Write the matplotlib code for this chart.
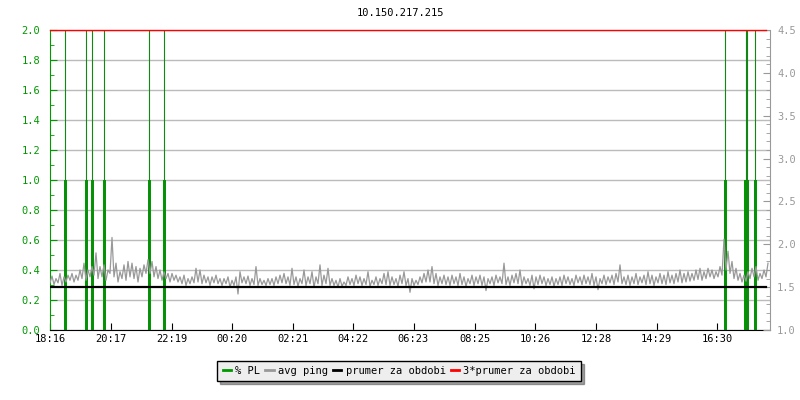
import matplotlib
matplotlib.use("Agg")
import matplotlib.pyplot as plt
from matplotlib.lines import Line2D
from matplotlib.ticker import MultipleLocator

plt.rcParams['font.family'] = ['DejaVu Sans Mono']

nazev = "10.150.217.215"

# popisky casove osy (od 18:16)
casy = ["18:16", "20:17", "22:19", "00:20", "02:21", "04:22",
        "06:23", "08:25", "10:26", "12:28", "14:29", "16:30"]

# okamziky ztraty paketu (minuty od zacatku)
pl_minuty = [30.6, 72.6, 84.6, 108.6, 198.6, 228.6, 1350.6, 1391.4, 1394.6, 1410.6]
pl_hodnoty = [1.0, 1.0, 1.0, 1.0, 1.0, 1.0, 1.0, 1.0, 1.0, 1.0]

# ping [ms] - dolni / horni hodnoty, krok 8 minut
ping_lo = [1.55, 1.53, 1.55, 1.52, 1.56, 1.58, 1.56, 1.58, 1.60, 1.58, 1.62, 1.64,
           1.60, 1.62, 1.58, 1.66, 1.62, 1.56, 1.60, 1.58, 1.62, 1.60, 1.56, 1.62,
           1.66, 1.66, 1.62, 1.60, 1.58, 1.60, 1.56, 1.58, 1.56, 1.54, 1.52, 1.54,
           1.55, 1.56, 1.54, 1.55, 1.52, 1.55, 1.54, 1.52, 1.54, 1.50, 1.52, 1.42,
           1.55, 1.54, 1.52, 1.53, 1.52, 1.53, 1.52, 1.53, 1.52, 1.54, 1.55, 1.54,
           1.52, 1.53, 1.51, 1.54, 1.52, 1.54, 1.50, 1.54, 1.52, 1.54, 1.52,
           1.52, 1.50, 1.51, 1.52, 1.53, 1.52, 1.54, 1.52, 1.53, 1.51, 1.53, 1.52,
           1.54, 1.53, 1.52, 1.53, 1.51, 1.54, 1.52, 1.44, 1.52, 1.53, 1.55, 1.56,
           1.56, 1.54, 1.52, 1.54, 1.53, 1.52, 1.54, 1.52, 1.53, 1.51, 1.54, 1.52,
           1.54, 1.52, 1.46, 1.54, 1.52, 1.55, 1.54, 1.53, 1.52, 1.55, 1.54, 1.52,
           1.54, 1.52, 1.48, 1.53, 1.54, 1.52, 1.53, 1.51, 1.53, 1.52, 1.54, 1.53,
           1.52, 1.55, 1.53, 1.54, 1.53, 1.52, 1.47, 1.54, 1.53, 1.55, 1.53, 1.56,
           1.54, 1.53, 1.52, 1.54, 1.53, 1.55, 1.53, 1.54, 1.52, 1.55, 1.54, 1.53,
           1.55, 1.54, 1.56, 1.55, 1.56, 1.57, 1.58, 1.59, 1.58, 1.60, 1.62, 1.60,
           1.62, 1.64, 1.70, 1.66, 1.60, 1.58, 1.56, 1.57, 1.60, 1.62, 1.58, 1.60,
           1.62]
ping_hi = [1.63, 1.60, 1.66, 1.62, 1.64, 1.66, 1.64, 1.70, 1.78, 1.70, 1.74, 1.90,
           1.74, 1.76, 1.70, 2.08, 1.78, 1.68, 1.76, 1.80, 1.78, 1.74, 1.72, 1.76,
           1.82, 1.80, 1.74, 1.70, 1.68, 1.66, 1.66, 1.64, 1.62, 1.64, 1.60, 1.62,
           1.72, 1.70, 1.64, 1.62, 1.62, 1.64, 1.60, 1.60, 1.62, 1.58, 1.62, 1.68,
           1.62, 1.63, 1.60, 1.74, 1.60, 1.58, 1.60, 1.60, 1.62, 1.64, 1.66, 1.62,
           1.72, 1.62, 1.60, 1.70, 1.62, 1.68, 1.62, 1.76, 1.64, 1.72, 1.60,
           1.58, 1.60, 1.56, 1.62, 1.60, 1.64, 1.62, 1.60, 1.68, 1.58, 1.62, 1.60,
           1.66, 1.68, 1.62, 1.60, 1.64, 1.68, 1.60, 1.60, 1.58, 1.62, 1.66, 1.70,
           1.74, 1.66, 1.62, 1.64, 1.62, 1.64, 1.62, 1.66, 1.62, 1.60, 1.64, 1.62,
           1.64, 1.62, 1.60, 1.62, 1.64, 1.62, 1.78, 1.62, 1.64, 1.66, 1.70, 1.62,
           1.60, 1.64, 1.62, 1.64, 1.62, 1.60, 1.62, 1.60, 1.62, 1.64, 1.62, 1.60,
           1.64, 1.62, 1.64, 1.62, 1.66, 1.62, 1.60, 1.64, 1.62, 1.64, 1.66, 1.76,
           1.62, 1.64, 1.62, 1.66, 1.62, 1.64, 1.68, 1.64, 1.62, 1.66, 1.64, 1.68,
           1.64, 1.66, 1.70, 1.66, 1.68, 1.66, 1.70, 1.72, 1.68, 1.72, 1.70, 1.68,
           1.74, 2.06, 1.92, 1.80, 1.72, 1.66, 1.64, 1.68, 1.72, 1.74, 1.66, 1.70,
           1.78]

prumer = 1.50
konec = 1432

# prevod casu na minuty od zacatku
def minuty(t):
    h, m = t.split(":")
    v = int(h) * 60 + int(m) - (18 * 60 + 16)
    if v < 0:
        v += 24 * 60
    return v

ticky = [minuty(c) for c in casy]

ping = []
ping_t = []
for k in range(len(ping_lo)):
    ping.append(ping_lo[k])
    ping_t.append(k * 8)
    ping.append(ping_hi[k])
    ping_t.append(k * 8 + 4)

zelena = "#009900"
seda = "#999999"

fig = plt.figure(figsize=(8, 4), dpi=100)
ax = fig.add_axes([0.0625, 0.175, 0.9, 0.75])
ax2 = ax.twinx()

ax.set_xlim(0, 1440)
ax.set_ylim(0, 2.0)
ax2.set_ylim(1.0, 4.5)

ax.yaxis.grid(True, color="#bbbbbb", linewidth=1)
ax.set_axisbelow(True)

ax.vlines(pl_minuty, 0, 2.0, color="#118811", linewidth=0.8)
ax.bar(pl_minuty, pl_hodnoty, width=5.5, color=zelena, linewidth=0)

ax2.plot(ping_t, ping, color=seda, linewidth=0.9)
ax2.plot([0, konec], [prumer, prumer], color="black", linewidth=1.6)
ax2.plot([0, konec], [3 * prumer, 3 * prumer], color="red", linewidth=1.0, clip_on=False)

for a in (ax, ax2):
    a.spines['top'].set_visible(False)
ax.spines['left'].set_color(zelena)
ax.spines['right'].set_visible(False)
ax2.spines['left'].set_visible(False)
ax2.spines['bottom'].set_visible(False)
ax2.spines['right'].set_color(seda)
ax.spines['bottom'].set_color("black")

ax.set_xticks(ticky)
ax.set_xticklabels(casy)
ax.tick_params(axis='x', direction='in', length=5, colors="black", labelsize=7.5, pad=3)

ax.yaxis.set_major_locator(MultipleLocator(0.2))
ax.yaxis.set_minor_locator(MultipleLocator(0.1))
ax.yaxis.set_major_formatter(matplotlib.ticker.FormatStrFormatter("%.1f"))
ax.tick_params(axis='y', which='major', direction='in', length=5, colors=zelena, labelsize=7.5, pad=7)
ax.tick_params(axis='y', which='minor', direction='in', length=3, colors=zelena)

ax2.yaxis.set_major_locator(MultipleLocator(0.5))
ax2.yaxis.set_minor_locator(MultipleLocator(0.1))
ax2.yaxis.set_major_formatter(matplotlib.ticker.FormatStrFormatter("%.1f"))
ax2.tick_params(axis='y', which='major', direction='in', length=5, colors=seda, labelsize=7.5, pad=5)
ax2.tick_params(axis='y', which='minor', direction='in', length=3, colors=seda)

fig.text(0.5, 0.967, nazev, ha="center", va="center", fontsize=7.5, color="black")

polozky = [Line2D([], [], color=zelena, linewidth=2),
           Line2D([], [], color=seda, linewidth=2),
           Line2D([], [], color="black", linewidth=2),
           Line2D([], [], color="red", linewidth=2)]
popisky = ["% PL", "avg ping", "prumer za obdobi", "3*prumer za obdobi"]
leg = fig.legend(polozky, popisky, loc="center", bbox_to_anchor=(0.499, 0.0725),
                 ncol=4, fontsize=7.5, handlelength=0.8, handletextpad=0.4,
                 columnspacing=0.5, borderpad=0.5, fancybox=False, shadow=True,
                 frameon=True, edgecolor="black", facecolor="#eeeeee", framealpha=1)
leg.get_frame().set_linewidth(1.0)

fig.savefig("out.png", dpi=100)
